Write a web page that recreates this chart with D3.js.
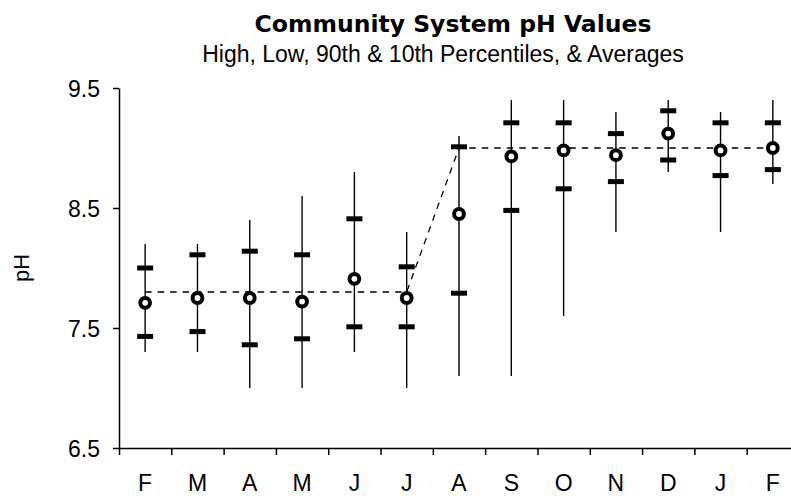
<!DOCTYPE html>
<html lang="en">
<head>
<meta charset="utf-8">
<title>Community System pH Values</title>
<script src="https://cdn.jsdelivr.net/npm/d3@7"></script>
<style type="text/css">
body {
	margin: 0;
	background: #fff;
	font-family: "Liberation Sans", Arial, sans-serif;
}
.title {
	font-family: "DejaVu Sans", sans-serif;
	font-weight: bold;
	font-size: 23.5px;
}
.subtitle { font-size: 23px; }
.axis text { font-family: "Liberation Sans", Arial, sans-serif; font-size: 23px; fill: #000; }
.axis path, .axis line { stroke: #000; stroke-width: 1.5; }
</style>
</head>
<body>
<div id="vis"></div>
<script>

/* Data */
/* ==== */

var months = ['F', 'M', 'A', 'M', 'J', 'J', 'A', 'S', 'O', 'N', 'D', 'J', 'F'];
var high   = [8.2, 8.2, 8.4, 8.6, 8.8, 8.3, 9.1, 9.4, 9.4, 9.3, 9.4, 9.3, 9.4];
var pct90  = [8.0, 8.11, 8.14, 8.11, 8.41, 8.01, 9.01, 9.21, 9.21, 9.12, 9.31, 9.21, 9.21];
var avg    = [7.71, 7.75, 7.75, 7.72, 7.91, 7.75, 8.45, 8.93, 8.98, 8.94, 9.12, 8.98, 9.0];
var pct10  = [7.43, 7.47, 7.36, 7.41, 7.51, 7.51, 7.79, 8.48, 8.66, 8.72, 8.9, 8.77, 8.82];
var low    = [7.3, 7.3, 7.0, 7.0, 7.3, 7.0, 7.1, 7.1, 7.6, 8.3, 8.8, 8.3, 8.7];
var target = [7.8, 7.8, 7.8, 7.8, 7.8, 7.8, 9.0, 9.0, 9.0, 9.0, 9.0, 9.0, 9.0];
var yTicks = [6.5, 7.5, 8.5, 9.5];

/* SVG */
/* === */

var W = 791, H = 496;
var mLeft = 119, mTop = 88, plotW = 680, plotH = 360;

var svg = d3.select('#vis')
	.append('svg')
		.attr('width', W)
		.attr('height', H);

var idx = months.map(function(d, i) { return i; });

var x = d3.scaleBand()
	.domain(idx)
	.range([mLeft, mLeft + plotW])
	.padding(0);

var xEdge = d3.scaleLinear()
	.domain([0, months.length])
	.range([mLeft, mLeft + plotW]);

var y = d3.scaleLinear()
	.domain([6.5, 9.5])
	.range([mTop + plotH, mTop]);

function cx(i) { return x(i) + x.bandwidth() / 2; }

/* Titles */
svg.append('text')
	.attr('class', 'title')
	.attr('x', 453)
	.attr('y', 32)
	.attr('text-anchor', 'middle')
	.text('Community System pH Values');

svg.append('text')
	.attr('class', 'subtitle')
	.attr('x', 443)
	.attr('y', 62)
	.attr('text-anchor', 'middle')
	.text('High, Low, 90th & 10th Percentiles, & Averages');

/* Axes */
svg.append('g')
	.attr('class', 'axis')
	.attr('transform', 'translate(' + mLeft + ',0)')
	.call(d3.axisLeft(y)
		.tickValues(yTicks)
		.tickFormat(d3.format('.1f'))
		.tickSize(6)
		.tickSizeOuter(0)
		.tickPadding(13))
	.selectAll('text')
		.attr('dy', '0.36em');

svg.append('g')
	.attr('class', 'axis')
	.attr('transform', 'translate(0,' + (mTop + plotH) + ')')
	.call(d3.axisBottom(xEdge)
		.tickValues(d3.range(months.length + 1))
		.tickFormat('')
		.tickSize(7)
		.tickSizeOuter(0));

var xLab = svg.append('g')
	.attr('class', 'axis')
	.attr('transform', 'translate(0,' + (mTop + plotH) + ')')
	.call(d3.axisBottom(x)
		.tickFormat(function(i) { return months[i]; })
		.tickSize(0)
		.tickPadding(27));
xLab.select('.domain').remove();

svg.append('text')
	.attr('transform', 'translate(29,268) rotate(-90)')
	.attr('text-anchor', 'middle')
	.style('font-size', '22px')
	.text('pH');

/* Reference line */
var line = d3.line()
	.x(function(d, i) { return cx(i); })
	.y(function(d) { return y(d); });

svg.append('path')
	.datum(target)
	.attr('d', line)
	.attr('fill', 'none')
	.attr('stroke', '#000')
	.attr('stroke-width', 1.3)
	.attr('stroke-dasharray', '6.5,6');

/* Range lines */
svg.append('g').selectAll('line')
	.data(idx)
	.enter().append('line')
		.attr('x1', cx)
		.attr('x2', cx)
		.attr('y1', function(i) { return y(high[i]); })
		.attr('y2', function(i) { return y(low[i]); })
		.attr('stroke', '#000')
		.attr('stroke-width', 1.4);

/* Percentile bars */
[pct90, pct10].forEach(function(series) {
	svg.append('g').selectAll('rect')
		.data(idx)
		.enter().append('rect')
			.attr('x', function(i) { return cx(i) - 8; })
			.attr('y', function(i) { return y(series[i]) - 2.5; })
			.attr('width', 16)
			.attr('height', 5)
			.attr('fill', '#000');
});

/* Averages */
svg.append('g').selectAll('circle')
	.data(idx)
	.enter().append('circle')
		.attr('cx', cx)
		.attr('cy', function(i) { return y(avg[i]); })
		.attr('r', 4.9)
		.attr('fill', '#fff')
		.attr('stroke', '#000')
		.attr('stroke-width', 4);

</script>
</body>
</html>
